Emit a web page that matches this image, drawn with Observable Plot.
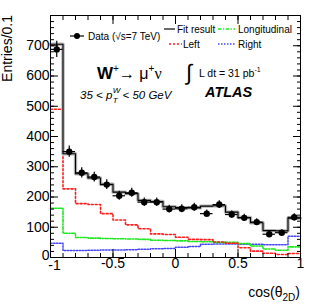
<!DOCTYPE html>
<html><head><meta charset="utf-8">
<script src="https://cdn.jsdelivr.net/npm/d3@7"></script>
<script src="https://cdn.jsdelivr.net/npm/@observablehq/plot@0.6"></script>
<style>
body{margin:0;background:#fff}
svg{font-family:"Liberation Sans",Arial,sans-serif}
</style>
</head><body><div id="chart"></div>
<script>
// bin edges of cos(theta_2D), width 0.1
const binEdges = [-1,-0.9,-0.8,-0.7,-0.6,-0.5,-0.4,-0.3,-0.2,-0.1,0,0.1,0.2,0.3,0.4,0.5,0.6,0.7,0.8,0.9,1];
// measured data (Entries/0.1) and statistical errors
const dataValues = [688,350,280,266,241,204,214,183,183,160,161,166,145,175,142,131,117,77,82,133];
const dataErrors = [27,19,17,16,16,15,15,14,14,13,13,13,12,13,12,12,11,9,9,12];
// fit result and helicity templates
const fitValues   = [705,343,277,263,242,216,211,189,185,168,165,164,170,171,150,132,115,89,88,130];
const leftValues  = [490,227,178,175,145,124,108,95,78,76,67,60,59,51,47,32,21,14,10,13];
const longValues  = [163,80,66,64,63,62,61,60,57,56,55,53,52,50,50,46,38,28,24,35];
const rightValues = [47,23,23,24,25,25,26,27,29,30,34,36,44,45,45,44,44,42,42,70];
// axis ticks and labels
const yTicks = [0,100,200,300,400,500,600,700];
const xTicks = [-1,-0.5,0,0.5,1];
const xTickLabels = ["-1","-0.5","0","0.5","1"];

const bins = dataValues.map((v,i)=>({x0:binEdges[i], x1:binEdges[i+1], xc:(binEdges[i]+binEdges[i+1])/2, v, e:dataErrors[i]}));
const steps = vals => vals.map((v,i)=>({x:binEdges[i], y:v})).concat([{x:binEdges[binEdges.length-1], y:vals[vals.length-1]}]);
const yMinor = d3.range(0, 801, 20);
const yMajor = d3.range(0, 801, 100);
const xMinor = d3.range(-10, 11, 1).map(d=>d/10);
const fmtX = d=>xTickLabels[xTicks.indexOf(d)];

const colLeft = "#ff1c1c", colLong = "#1ee81e", colRight = "#4646ff";
const dashLeft = "2,2", dashLong = "3.5,1.5,1.2,1.5", dashRight = "1.5,1.5";

const svg = Plot.plot({
  width: 316, height: 308,
  marginLeft: 50, marginRight: 16, marginTop: 15, marginBottom: 51,
  x: {domain: [-1, 1]},
  y: {domain: [0, 800]},
  style: {fontFamily: "Liberation Sans, Arial, sans-serif", fontSize: "14px", color: "#000", background: "#fff", overflow: "visible"},
  marks: [
    Plot.line(steps(rightValues), {x:"x", y:"y", curve:"step-after", stroke:colRight, strokeWidth:1.5, strokeDasharray:dashRight}),
    Plot.line(steps(longValues), {x:"x", y:"y", curve:"step-after", stroke:colLong, strokeWidth:1.6, strokeDasharray:dashLong}),
    Plot.line(steps(leftValues), {x:"x", y:"y", curve:"step-after", stroke:colLeft, strokeWidth:1.6, strokeDasharray:dashLeft}),
    Plot.line(steps(fitValues), {x:"x", y:"y", curve:"step-after", stroke:"#b4b4b4", strokeWidth:3.4}),
    Plot.line(steps(fitValues), {x:"x", y:"y", curve:"step-after", stroke:"#000", strokeWidth:1.1}),
    Plot.ruleX(bins, {x:"xc", y1:d=>d.v-d.e, y2:d=>d.v+d.e, stroke:"#000", strokeWidth:1.2}),
    Plot.ruleY(bins, {y:"v", x1:"x0", x2:"x1", stroke:"#000", strokeWidth:1.2}),
    Plot.dot(bins, {x:"xc", y:"v", r:3.2, fill:"#000", stroke:null}),
    Plot.frame({stroke:"#000", strokeWidth:1}),
    Plot.axisY(yMajor, {anchor:"left", tickSize:-8, text:null, label:null}),
    Plot.axisY(yTicks.slice(1), {anchor:"left", tickSize:0, tickPadding:1, label:null, tickFormat:d=>String(d)}),
    Plot.axisY(yTicks.slice(0,1), {anchor:"left", tickSize:0, tickPadding:1, dy:-2, label:null, tickFormat:d=>String(d)}),
    Plot.axisY(yMinor, {anchor:"left", tickSize:-4, text:null, label:null}),
    Plot.axisY(yMajor, {anchor:"right", tickSize:-8, text:null, label:null}),
    Plot.axisY(yMinor, {anchor:"right", tickSize:-4, text:null, label:null}),
    Plot.axisX(xTicks, {anchor:"bottom", tickSize:-8, text:null, label:null}),
    Plot.axisX(xTicks.slice(1), {anchor:"bottom", tickSize:0, tickPadding:1, label:null, tickFormat:fmtX}),
    Plot.axisX(xTicks.slice(0,1), {anchor:"bottom", tickSize:0, tickPadding:3, dx:4, label:null, tickFormat:fmtX}),
    Plot.axisX(xMinor, {anchor:"bottom", tickSize:-4, text:null, label:null}),
    Plot.axisX(xTicks, {anchor:"top", tickSize:-8, text:null, label:null}),
    Plot.axisX(xMinor, {anchor:"top", tickSize:-4, text:null, label:null})
  ]
});
document.getElementById("chart").appendChild(svg);

const g = d3.select(svg).append("g")
  .attr("font-family","Liberation Sans, Arial, sans-serif")
  .attr("fill","#000").attr("text-anchor","start");

// axis titles
g.append("text").attr("transform","translate(12,15) rotate(-90)").attr("text-anchor","end")
  .attr("font-size",14).text("Entries/0.1");
const xt = g.append("text").attr("x",300).attr("y",297).attr("text-anchor","end").attr("font-size",14);
xt.append("tspan").text("cos(θ");
xt.append("tspan").attr("font-size",10).attr("dy",4).text("2D");
xt.append("tspan").attr("dy",-4).text(")");

// legend
const lg = g.append("g").attr("font-size",10);
lg.append("line").attr("x1",70).attr("x2",84).attr("y1",36).attr("y2",36).attr("stroke","#000").attr("stroke-width",1.2);
lg.append("circle").attr("cx",77).attr("cy",36).attr("r",3).attr("fill","#000");
lg.append("text").attr("x",88).attr("y",39.5).text("Data (√s=7 TeV)");
lg.append("line").attr("x1",164).attr("x2",175).attr("y1",29).attr("y2",29).attr("stroke","#444").attr("stroke-width",1.6);
lg.append("text").attr("x",177).attr("y",32.5).text("Fit result");
lg.append("line").attr("x1",218).attr("x2",235).attr("y1",29).attr("y2",29).attr("stroke",colLong).attr("stroke-width",1.6).attr("stroke-dasharray",dashLong);
lg.append("text").attr("x",238).attr("y",32.5).text("Longitudinal");
lg.append("line").attr("x1",169).attr("x2",182).attr("y1",44).attr("y2",44).attr("stroke",colLeft).attr("stroke-width",1.6).attr("stroke-dasharray",dashLeft);
lg.append("text").attr("x",183).attr("y",47.5).text("Left");
lg.append("line").attr("x1",218).attr("x2",235).attr("y1",44).attr("y2",44).attr("stroke",colRight).attr("stroke-width",1.5).attr("stroke-dasharray",dashRight);
lg.append("text").attr("x",238).attr("y",47.5).text("Right");

// process label
const pr = g.append("text").attr("x",97).attr("y",79).attr("font-size",16);
pr.append("tspan").attr("font-weight","bold").attr("font-size",17).text("W");
pr.append("tspan").attr("font-size",10).attr("dy",-7).text("+");
pr.append("tspan").attr("dy",7).text("→ μ");
pr.append("tspan").attr("font-size",10).attr("dy",-7).text("+");
pr.append("tspan").attr("dy",7).attr("font-family","Liberation Serif, Times New Roman, serif").text("ν");

// pT range
const ptA = g.append("text").attr("x",80).attr("y",99).attr("font-size",11.5).attr("font-style","italic").text("35 < p");
const w1 = ptA.node().getComputedTextLength();
g.append("text").attr("x",80+w1+0.5).attr("y",93).attr("font-size",8).attr("font-style","italic").text("W");
g.append("text").attr("x",80+w1+0.5).attr("y",103).attr("font-size",8).attr("font-style","italic").text("T");
g.append("text").attr("x",80+w1+7).attr("y",99).attr("font-size",11.5).attr("font-style","italic").text(" < 50 GeV");

// luminosity
g.append("text").attr("x",186).attr("y",80).attr("font-size",22).attr("font-family","DejaVu Sans, sans-serif").attr("font-weight","200").text("∫");
const lu = g.append("text").attr("x",199).attr("y",77).attr("font-size",10.5);
lu.append("tspan").text("L dt = 31 pb");
lu.append("tspan").attr("font-size",7).attr("dy",-5).text("-1");

// ATLAS
g.append("text").attr("x",205).attr("y",97).attr("font-size",14.5).attr("font-weight","bold").attr("font-style","italic").text("ATLAS");
</script>
</body></html>
